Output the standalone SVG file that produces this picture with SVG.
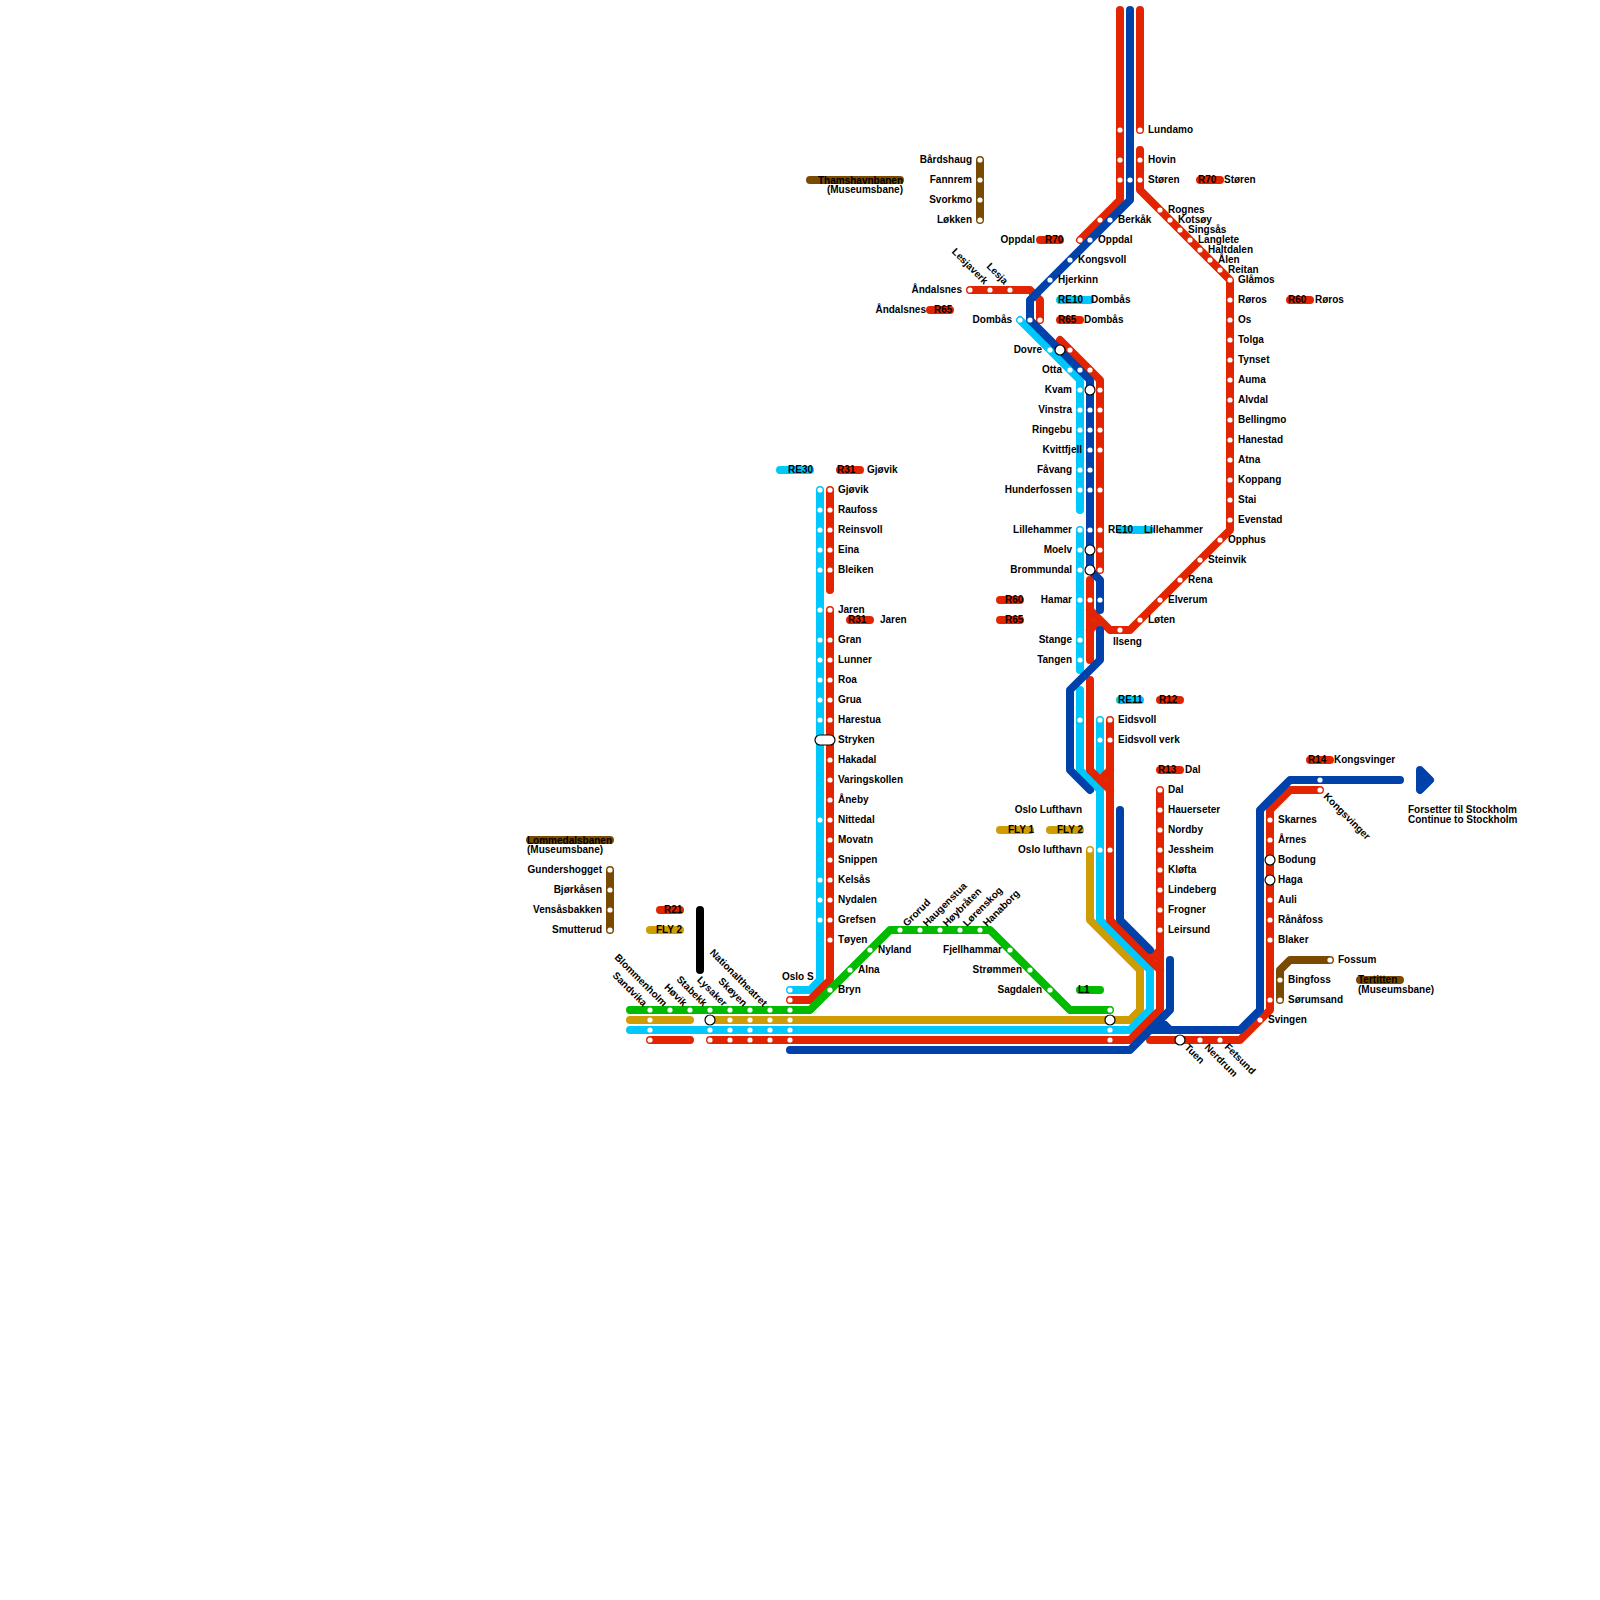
<svg xmlns="http://www.w3.org/2000/svg" width="1600" height="1600" viewBox="0 0 1600 1600">
<style>
text{font-family:"Liberation Sans",Arial,sans-serif;font-size:10px;font-weight:bold;fill:#000}
.e{text-anchor:end}
.l{fill:none;stroke-width:8;stroke-linecap:round;stroke-linejoin:round}
.r{stroke:#e32400}.c{stroke:#00c7fc}.b{stroke:#0042a9}.g{stroke:#00bb00}.y{stroke:#d09c04}.n{stroke:#7a4a00}.k{stroke:#000}
circle{fill:#fff}
.x{stroke:#000;stroke-width:1.2}
</style>
<defs><circle id="d" r="2.6"/><circle id="i" r="5" class="x"/></defs>
<rect width="1600" height="1600" fill="#fff"/>
<g id="connectors">
<path class="l y" d="M630 1020H690M710 1020H1130L1140 1010V970L1090 920V850"/>
<path class="l c" d="M630 1030H1130L1150 1010V970L1100 920V790L1080 770V690M1100 720V770M1080 530V670M1020 320L1080 380V510M820 490V980L810 990H790"/>
<path class="l r" d="M650 1040H690M710 1040H1130L1160 1010V790M1160 950L1150 960M1090 680V770L1110 790M1110 720V920L1160 970M1110 770L1100 780M1090 580V660M1100 620L1090 630M1090 610L1110 630H1130L1230 530V280L1140 190V150M1140 10V130M1120 10V200L1080 240M970 290H1030L1040 300V320M1060 340L1100 380V570M830 490V590M830 610V980L810 1000H790M1150 1040H1240L1270 1010V810L1290 790H1320"/>
<path class="l g" d="M630 1010H810L890 930H990L1070 1010H1110"/>
<path class="l b" d="M790 1050H1130L1170 1010V960M1150 1030H1240L1260 1010V810L1290 780H1400M1160 1020L1170 1030M1120 810V920L1150 950M1100 630V660L1070 690V770L1090 790M1130 10V200L1030 300V320L1090 380V570L1100 580V610"/>
<path class="l n" d="M980 160V220M610 870V930M1330 960H1290L1280 970V1000"/>
<path class="l k" d="M700 910V970"/>
<path d="M1420 770L1430 780L1420 790Z" fill="#0042a9" stroke="#0042a9" stroke-width="8" stroke-linejoin="round"/>
<path class="l n" d="M810 180H900M530 840H610M1360 980H1400"/>
<path class="l r" d="M660 910H680M840 470H860M850 620H870M1000 600H1020M1000 620H1020M1040 240H1060M1060 320H1080M930 310H950M1200 180H1220M1290 300H1310M1160 700H1180M1160 770H1180M1310 760H1330"/>
<path class="l c" d="M780 470H810M1060 300H1090M1120 530H1150M1120 700H1140"/>
<path class="l y" d="M650 930H680M1000 830H1030M1050 830H1080"/>
<path class="l g" d="M1080 990H1100"/>
</g>
<g id="line-labels">
<text x="664" y="913">R21</text><text x="656" y="933">FLY 2</text>
<text x="788" y="473">RE30</text><text x="837" y="473">R31</text><text x="867" y="473">Gjøvik</text>
<text x="848" y="623">R31</text><text x="880" y="623">Jaren</text>
<text x="1005" y="603">R60</text><text x="1005" y="623">R65</text>
<text x="1045" y="243">R70</text><text x="1058" y="303">RE10</text><text x="1091" y="303">Dombås</text>
<text x="1058" y="323">R65</text><text x="1084" y="323">Dombås</text>
<text x="934" y="313">R65</text><text x="926" y="313" class="e">Åndalsnes</text>
<text x="1198" y="183">R70</text><text x="1224" y="183">Støren</text>
<text x="1288" y="303">R60</text><text x="1315" y="303">Røros</text>
<text x="1108" y="533">RE10</text><text x="1144" y="533">Lillehammer</text>
<text x="1118" y="703">RE11</text><text x="1159" y="703">R12</text>
<text x="1158" y="773">R13</text><text x="1185" y="773">Dal</text>
<text x="1308" y="763">R14</text><text x="1334" y="763">Kongsvinger</text>
<text x="1008" y="833">FLY 1</text><text x="1057" y="833">FLY 2</text><text x="1078" y="993">L1</text>
<text x="1358" y="983">Tertitten</text><text x="1358" y="993">(Museumsbane)</text>
<text x="818" y="183.500">Thamshavnbanen</text><text x="903" y="193" class="e">(Museumsbane)</text>
<text x="527" y="843.500">Lommedalsbanen</text><text x="527" y="853">(Museumsbane)</text>
<text x="1408" y="813">Forsetter til Stockholm</text><text x="1408" y="823">Continue to Stockholm</text>
<text x="1082" y="813" class="e">Oslo Lufthavn</text>
</g>
<g id="museum-stations">
<g id="s-bardshaug"><use href="#d" x="980" y="160"/><text x="972" y="162.500" class="e">Bårdshaug</text></g>
<g id="s-fannrem"><use href="#d" x="980" y="180"/><text x="972" y="182.500" class="e">Fannrem</text></g>
<g id="s-svorkmo"><use href="#d" x="980" y="200"/><text x="972" y="202.500" class="e">Svorkmo</text></g>
<g id="s-lokken"><use href="#d" x="980" y="220"/><text x="972" y="222.500" class="e">Løkken</text></g>
<g id="s-gundershogget"><use href="#d" x="610" y="870"/><text x="602" y="872.500" class="e">Gundershogget</text></g>
<g id="s-bjorkasen"><use href="#d" x="610" y="890"/><text x="602" y="892.500" class="e">Bjørkåsen</text></g>
<g id="s-vensasbakken"><use href="#d" x="610" y="910"/><text x="602" y="912.500" class="e">Vensåsbakken</text></g>
<g id="s-smutterud"><use href="#d" x="610" y="930"/><text x="602" y="932.500" class="e">Smutterud</text></g>
<g id="s-fossum"><use href="#d" x="1330" y="960"/><text x="1338" y="962.500">Fossum</text></g>
<g id="s-bingfoss"><use href="#d" x="1280" y="980"/><text x="1288" y="982.500">Bingfoss</text></g>
<g id="s-sorumsand"><use href="#d" x="1280" y="1000"/><text x="1288" y="1002.500">Sørumsand</text></g>
</g>
<g id="north-stations">
<g id="s-lundamo"><use href="#d" x="1120" y="130"/><use href="#d" x="1140" y="130"/><text x="1148" y="132.500">Lundamo</text></g>
<g id="s-hovin"><use href="#d" x="1120" y="160"/><use href="#d" x="1140" y="160"/><text x="1148" y="162.500">Hovin</text></g>
<g id="s-storen"><use href="#d" x="1120" y="180"/><use href="#d" x="1130" y="180"/><use href="#d" x="1140" y="180"/><text x="1148" y="182.500">Støren</text></g>
<g id="s-berkak"><use href="#d" x="1100" y="220"/><use href="#d" x="1110" y="220"/><text x="1118" y="222.500">Berkåk</text></g>
<g id="s-oppdal"><use href="#d" x="1080" y="240"/><use href="#d" x="1090" y="240"/><text x="1098" y="242.500">Oppdal</text><text x="1035" y="242.500" class="e">Oppdal</text></g>
<g id="s-kongsvoll"><use href="#d" x="1070" y="260"/><text x="1078" y="262.500">Kongsvoll</text></g>
<g id="s-hjerkinn"><use href="#d" x="1050" y="280"/><text x="1058" y="282.500">Hjerkinn</text></g>
<g id="s-andalsnes"><use href="#d" x="970" y="290"/><text x="962" y="292.500" class="e">Åndalsnes</text></g>
<g id="s-lesjaverk"><use href="#d" x="990" y="290"/><text class="e" transform="translate(984 285) rotate(45)">Lesjaverk</text></g>
<g id="s-lesja"><use href="#d" x="1010" y="290"/><text class="e" transform="translate(1004 285) rotate(45)">Lesja</text></g>
<g id="s-dombas"><use href="#d" x="1020" y="320"/><use href="#d" x="1030" y="320"/><use href="#d" x="1040" y="320"/><text x="1012" y="322.500" class="e">Dombås</text></g>
<g id="s-dovre"><use href="#d" x="1050" y="350"/><use href="#d" x="1070" y="350"/><use href="#i" x="1060" y="350"/><text x="1042" y="352.500" class="e">Dovre</text></g>
<g id="s-otta"><use href="#d" x="1070" y="370"/><use href="#d" x="1080" y="370"/><use href="#d" x="1090" y="370"/><text x="1062" y="372.500" class="e">Otta</text></g>
<g id="s-kvam"><use href="#d" x="1080" y="390"/><use href="#d" x="1100" y="390"/><use href="#i" x="1090" y="390"/><text x="1072" y="392.500" class="e">Kvam</text></g>
<g id="s-vinstra"><use href="#d" x="1080" y="410"/><use href="#d" x="1090" y="410"/><use href="#d" x="1100" y="410"/><text x="1072" y="412.500" class="e">Vinstra</text></g>
<g id="s-ringebu"><use href="#d" x="1080" y="430"/><use href="#d" x="1090" y="430"/><use href="#d" x="1100" y="430"/><text x="1072" y="432.500" class="e">Ringebu</text></g>
<g id="s-kvittfjell"><use href="#d" x="1090" y="450"/><use href="#d" x="1100" y="450"/><text x="1082" y="452.500" class="e">Kvittfjell</text></g>
<g id="s-favang"><use href="#d" x="1080" y="470"/><use href="#d" x="1090" y="470"/><text x="1072" y="472.500" class="e">Fåvang</text></g>
<g id="s-hunderfossen"><use href="#d" x="1080" y="490"/><use href="#d" x="1090" y="490"/><use href="#d" x="1100" y="490"/><text x="1072" y="492.500" class="e">Hunderfossen</text></g>
<g id="s-lillehammer"><use href="#d" x="1080" y="530"/><use href="#d" x="1090" y="530"/><use href="#d" x="1100" y="530"/><text x="1072" y="532.500" class="e">Lillehammer</text></g>
<g id="s-moelv"><use href="#d" x="1080" y="550"/><use href="#d" x="1100" y="550"/><use href="#i" x="1090" y="550"/><text x="1072" y="552.500" class="e">Moelv</text></g>
<g id="s-brommundal"><use href="#d" x="1080" y="570"/><use href="#d" x="1100" y="570"/><use href="#i" x="1090" y="570"/><text x="1072" y="572.500" class="e">Brommundal</text></g>
<g id="s-hamar"><use href="#d" x="1080" y="600"/><use href="#d" x="1090" y="600"/><use href="#d" x="1100" y="600"/><text x="1072" y="602.500" class="e">Hamar</text></g>
<g id="s-stange"><use href="#d" x="1080" y="640"/><text x="1072" y="642.500" class="e">Stange</text></g>
<g id="s-tangen"><use href="#d" x="1080" y="660"/><text x="1072" y="662.500" class="e">Tangen</text></g>
<g id="s-ilseng"><use href="#d" x="1120" y="630"/><text x="1113" y="645">Ilseng</text></g>
<g id="s-loten"><use href="#d" x="1140" y="620"/><text x="1148" y="622.500">Løten</text></g>
<g id="s-elverum"><use href="#d" x="1160" y="600"/><text x="1168" y="602.500">Elverum</text></g>
<g id="s-rena"><use href="#d" x="1180" y="580"/><text x="1188" y="582.500">Rena</text></g>
<g id="s-steinvik"><use href="#d" x="1200" y="560"/><text x="1208" y="562.500">Steinvik</text></g>
<g id="s-opphus"><use href="#d" x="1220" y="540"/><text x="1228" y="542.500">Opphus</text></g>
<g id="s-rognes"><use href="#d" x="1160" y="210"/><text x="1168" y="212.500">Rognes</text></g>
<g id="s-kotsoy"><use href="#d" x="1170" y="220"/><text x="1178" y="222.500">Kotsøy</text></g>
<g id="s-singsas"><use href="#d" x="1180" y="230"/><text x="1188" y="232.500">Singsås</text></g>
<g id="s-langlete"><use href="#d" x="1190" y="240"/><text x="1198" y="242.500">Langlete</text></g>
<g id="s-haltdalen"><use href="#d" x="1200" y="250"/><text x="1208" y="252.500">Haltdalen</text></g>
<g id="s-alen"><use href="#d" x="1210" y="260"/><text x="1218" y="262.500">Ålen</text></g>
<g id="s-reitan"><use href="#d" x="1220" y="270"/><text x="1228" y="272.500">Reitan</text></g>
<g id="s-glamos"><use href="#d" x="1230" y="280"/><text x="1238" y="282.500">Glåmos</text></g>
<g id="s-roros"><use href="#d" x="1230" y="300"/><text x="1238" y="302.500">Røros</text></g>
<g id="s-os"><use href="#d" x="1230" y="320"/><text x="1238" y="322.500">Os</text></g>
<g id="s-tolga"><use href="#d" x="1230" y="340"/><text x="1238" y="342.500">Tolga</text></g>
<g id="s-tynset"><use href="#d" x="1230" y="360"/><text x="1238" y="362.500">Tynset</text></g>
<g id="s-auma"><use href="#d" x="1230" y="380"/><text x="1238" y="382.500">Auma</text></g>
<g id="s-alvdal"><use href="#d" x="1230" y="400"/><text x="1238" y="402.500">Alvdal</text></g>
<g id="s-bellingmo"><use href="#d" x="1230" y="420"/><text x="1238" y="422.500">Bellingmo</text></g>
<g id="s-hanestad"><use href="#d" x="1230" y="440"/><text x="1238" y="442.500">Hanestad</text></g>
<g id="s-atna"><use href="#d" x="1230" y="460"/><text x="1238" y="462.500">Atna</text></g>
<g id="s-koppang"><use href="#d" x="1230" y="480"/><text x="1238" y="482.500">Koppang</text></g>
<g id="s-stai"><use href="#d" x="1230" y="500"/><text x="1238" y="502.500">Stai</text></g>
<g id="s-evenstad"><use href="#d" x="1230" y="520"/><text x="1238" y="522.500">Evenstad</text></g>
</g>
<g id="gjovik-stations">
<g id="s-gjovik"><use href="#d" x="820" y="490"/><use href="#d" x="830" y="490"/><text x="838" y="492.500">Gjøvik</text></g>
<g id="s-raufoss"><use href="#d" x="820" y="510"/><use href="#d" x="830" y="510"/><text x="838" y="512.500">Raufoss</text></g>
<g id="s-reinsvoll"><use href="#d" x="820" y="530"/><use href="#d" x="830" y="530"/><text x="838" y="532.500">Reinsvoll</text></g>
<g id="s-eina"><use href="#d" x="820" y="550"/><use href="#d" x="830" y="550"/><text x="838" y="552.500">Eina</text></g>
<g id="s-bleiken"><use href="#d" x="820" y="570"/><use href="#d" x="830" y="570"/><text x="838" y="572.500">Bleiken</text></g>
<g id="s-jaren"><use href="#d" x="820" y="610"/><use href="#d" x="830" y="610"/><text x="838" y="612.500">Jaren</text></g>
<g id="s-gran"><use href="#d" x="820" y="640"/><use href="#d" x="830" y="640"/><text x="838" y="642.500">Gran</text></g>
<g id="s-lunner"><use href="#d" x="820" y="660"/><use href="#d" x="830" y="660"/><text x="838" y="662.500">Lunner</text></g>
<g id="s-roa"><use href="#d" x="820" y="680"/><use href="#d" x="830" y="680"/><text x="838" y="682.500">Roa</text></g>
<g id="s-grua"><use href="#d" x="820" y="700"/><use href="#d" x="830" y="700"/><text x="838" y="702.500">Grua</text></g>
<g id="s-harestua"><use href="#d" x="820" y="720"/><use href="#d" x="830" y="720"/><text x="838" y="722.500">Harestua</text></g>
<g id="s-stryken"><rect x="815" y="735" width="20" height="10" rx="5" fill="#fff" stroke="#000" stroke-width="1.2"/><text x="838" y="742.500">Stryken</text></g>
<g id="s-hakadal"><use href="#d" x="830" y="760"/><text x="838" y="762.500">Hakadal</text></g>
<g id="s-varingskollen"><use href="#d" x="830" y="780"/><text x="838" y="782.500">Varingskollen</text></g>
<g id="s-aneby"><use href="#d" x="830" y="800"/><text x="838" y="802.500">Åneby</text></g>
<g id="s-nittedal"><use href="#d" x="820" y="820"/><use href="#d" x="830" y="820"/><text x="838" y="822.500">Nittedal</text></g>
<g id="s-movatn"><use href="#d" x="830" y="840"/><text x="838" y="842.500">Movatn</text></g>
<g id="s-snippen"><use href="#d" x="830" y="860"/><text x="838" y="862.500">Snippen</text></g>
<g id="s-kelsas"><use href="#d" x="820" y="880"/><use href="#d" x="830" y="880"/><text x="838" y="882.500">Kelsås</text></g>
<g id="s-nydalen"><use href="#d" x="820" y="900"/><use href="#d" x="830" y="900"/><text x="838" y="902.500">Nydalen</text></g>
<g id="s-grefsen"><use href="#d" x="820" y="920"/><use href="#d" x="830" y="920"/><text x="838" y="922.500">Grefsen</text></g>
<g id="s-toyen"><use href="#d" x="830" y="940"/><text x="838" y="942.500">Tøyen</text></g>
</g>
<g id="oslo-stations">
<g id="s-sandvika"><use href="#d" x="650" y="1010"/><use href="#d" x="650" y="1020"/><use href="#d" x="650" y="1030"/><use href="#d" x="650" y="1040"/><text class="e" transform="translate(643 1007) rotate(45)">Sandvika</text></g>
<g id="s-blommenholm"><use href="#d" x="670" y="1010"/><text class="e" transform="translate(663 1007) rotate(45)">Blommenholm</text></g>
<g id="s-hovik"><use href="#d" x="690" y="1010"/><text class="e" transform="translate(683 1007) rotate(45)">Høvik</text></g>
<g id="s-stabekk"><use href="#d" x="710" y="1010"/><use href="#i" x="710" y="1020"/><use href="#d" x="710" y="1030"/><use href="#d" x="710" y="1040"/><text class="e" transform="translate(703 1007) rotate(45)">Stabekk</text></g>
<g id="s-lysaker"><use href="#d" x="730" y="1010"/><use href="#d" x="730" y="1020"/><use href="#d" x="730" y="1030"/><use href="#d" x="730" y="1040"/><text class="e" transform="translate(723 1007) rotate(45)">Lysaker</text></g>
<g id="s-skoyen"><use href="#d" x="750" y="1010"/><use href="#d" x="750" y="1020"/><use href="#d" x="750" y="1030"/><use href="#d" x="750" y="1040"/><text class="e" transform="translate(743 1007) rotate(45)">Skøyen</text></g>
<g id="s-nationaltheatret"><use href="#d" x="770" y="1010"/><use href="#d" x="770" y="1020"/><use href="#d" x="770" y="1030"/><use href="#d" x="770" y="1040"/><text class="e" transform="translate(763 1007) rotate(45)">Nationaltheatret</text></g>
<g id="s-oslo-s"><use href="#d" x="790" y="990"/><use href="#d" x="790" y="1000"/><use href="#d" x="790" y="1010"/><use href="#d" x="790" y="1020"/><use href="#d" x="790" y="1030"/><use href="#d" x="790" y="1040"/><text x="782" y="980">Oslo S</text></g>
<g id="s-bryn"><use href="#d" x="830" y="990"/><text x="838" y="992.500">Bryn</text></g>
<g id="s-alna"><use href="#d" x="850" y="970"/><text x="858" y="972.500">Alna</text></g>
<g id="s-nyland"><use href="#d" x="870" y="950"/><text x="878" y="952.500">Nyland</text></g>
<g id="s-grorud"><use href="#d" x="900" y="930"/><text transform="translate(907 927) rotate(-45)">Grorud</text></g>
<g id="s-haugenstua"><use href="#d" x="920" y="930"/><text transform="translate(927 927) rotate(-45)">Haugenstua</text></g>
<g id="s-hoybraten"><use href="#d" x="940" y="930"/><text transform="translate(947 927) rotate(-45)">Høybråten</text></g>
<g id="s-lorenskog"><use href="#d" x="960" y="930"/><text transform="translate(967 927) rotate(-45)">Lørenskog</text></g>
<g id="s-hanaborg"><use href="#d" x="980" y="930"/><text transform="translate(987 927) rotate(-45)">Hanaborg</text></g>
<g id="s-fjellhammar"><use href="#d" x="1010" y="950"/><text x="1002" y="952.500" class="e">Fjellhammar</text></g>
<g id="s-strommen"><use href="#d" x="1030" y="970"/><text x="1022" y="972.500" class="e">Strømmen</text></g>
<g id="s-sagdalen"><use href="#d" x="1050" y="990"/><text x="1042" y="992.500" class="e">Sagdalen</text></g>
<g id="s-lillestrom"><use href="#d" x="1110" y="1010"/><use href="#i" x="1110" y="1020"/><use href="#d" x="1110" y="1030"/><use href="#d" x="1110" y="1040"/></g>
<g id="s-eidsvoll-gardermoen"><use href="#d" x="1080" y="720"/></g>
<g id="s-oslo-lufthavn"><use href="#d" x="1090" y="850"/><use href="#d" x="1100" y="850"/><use href="#d" x="1110" y="850"/><text x="1082" y="852.500" class="e">Oslo lufthavn</text></g>
<g id="s-eidsvoll"><use href="#d" x="1100" y="720"/><use href="#d" x="1110" y="720"/><text x="1118" y="722.500">Eidsvoll</text></g>
<g id="s-eidsvoll-verk"><use href="#d" x="1100" y="740"/><use href="#d" x="1110" y="740"/><text x="1118" y="742.500">Eidsvoll verk</text></g>
<g id="s-dal"><use href="#d" x="1160" y="790"/><text x="1168" y="792.500">Dal</text></g>
<g id="s-hauerseter"><use href="#d" x="1160" y="810"/><text x="1168" y="812.500">Hauerseter</text></g>
<g id="s-nordby"><use href="#d" x="1160" y="830"/><text x="1168" y="832.500">Nordby</text></g>
<g id="s-jessheim"><use href="#d" x="1160" y="850"/><text x="1168" y="852.500">Jessheim</text></g>
<g id="s-klofta"><use href="#d" x="1160" y="870"/><text x="1168" y="872.500">Kløfta</text></g>
<g id="s-lindeberg"><use href="#d" x="1160" y="890"/><text x="1168" y="892.500">Lindeberg</text></g>
<g id="s-frogner"><use href="#d" x="1160" y="910"/><text x="1168" y="912.500">Frogner</text></g>
<g id="s-leirsund"><use href="#d" x="1160" y="930"/><text x="1168" y="932.500">Leirsund</text></g>
<g id="s-tuen"><use href="#i" x="1180" y="1040"/><text transform="translate(1184 1048) rotate(45)">Tuen</text></g>
<g id="s-nerdrum"><use href="#d" x="1200" y="1040"/><text transform="translate(1204 1048) rotate(45)">Nerdrum</text></g>
<g id="s-fetsund"><use href="#d" x="1220" y="1040"/><text transform="translate(1224 1047.500) rotate(45)">Fetsund</text></g>
<g id="s-svingen"><use href="#d" x="1260" y="1020"/><text x="1268" y="1022.500">Svingen</text></g>
<g id="s-sorumsand-main"><use href="#d" x="1270" y="1000"/></g>
<g id="s-blaker"><use href="#d" x="1270" y="940"/><text x="1278" y="942.500">Blaker</text></g>
<g id="s-ranafoss"><use href="#d" x="1270" y="920"/><text x="1278" y="922.500">Rånåfoss</text></g>
<g id="s-auli"><use href="#d" x="1270" y="900"/><text x="1278" y="902.500">Auli</text></g>
<g id="s-haga"><use href="#i" x="1270" y="880"/><text x="1278" y="882.500">Haga</text></g>
<g id="s-bodung"><use href="#i" x="1270" y="860"/><text x="1278" y="862.500">Bodung</text></g>
<g id="s-arnes"><use href="#d" x="1270" y="840"/><text x="1278" y="842.500">Årnes</text></g>
<g id="s-skarnes"><use href="#d" x="1270" y="820"/><text x="1278" y="822.500">Skarnes</text></g>
<g id="s-kongsvinger"><use href="#d" x="1320" y="780"/><use href="#d" x="1320" y="790"/><text transform="translate(1323 797) rotate(45)">Kongsvinger</text></g>
</g>
</svg>
